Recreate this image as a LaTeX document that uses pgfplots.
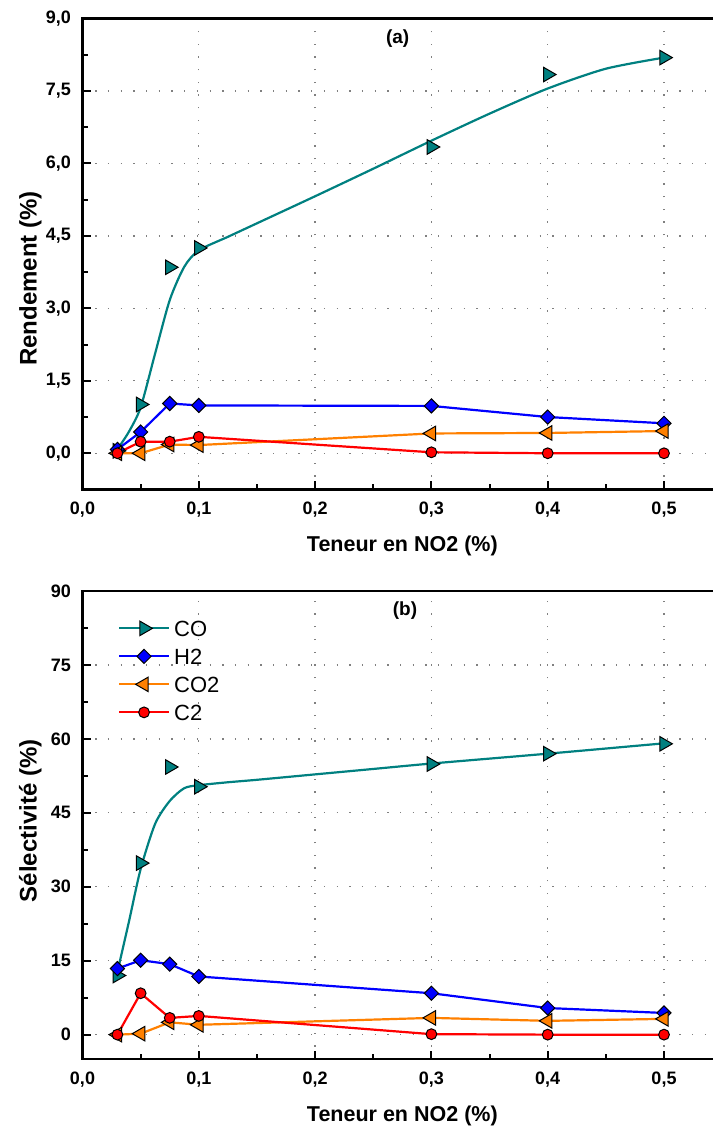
\documentclass[border=0pt]{standalone}
\usepackage{pgfplots}
\pgfplotsset{compat=1.18}
\usepackage{fontspec}
\setmainfont{Liberation Sans}
\definecolor{coteal}{RGB}{0,128,128}
\definecolor{h2blue}{RGB}{0,0,255}
\definecolor{co2orange}{RGB}{255,128,0}
\definecolor{c2red}{RGB}{255,0,0}
\newcommand\tfont{\fontsize{18}{21}\selectfont\bfseries}

\pgfplotsset{
  panel/.style={
    scale only axis, width=639.65pt,
    xmin=0, xmax=0.55,
    xtick={0,0.1,0.2,0.3,0.4,0.5},
    xticklabels={{\tfont 0,0},{\tfont 0,1},{\tfont 0,2},{\tfont 0,3},{\tfont 0,4},{\tfont 0,5}},
    minor xtick={0.05,0.15,0.25,0.35,0.45},
    tick align=inside, xtick pos=bottom, ytick pos=left,
    major tick length=8pt, minor tick length=5pt,
    tick style={black, line width=2pt},
    axis line style={line width=2.4pt},
    grid=major,
    major grid style={gray, line width=1.3pt, dash pattern=on 1.3pt off 11.4pt},
    xticklabel style={yshift=-7pt, inner sep=5.7pt},
    yticklabel style={xshift=-5.8pt, inner sep=5.7pt},
    xlabel style={at={(axis description cs:0.5,0)}, anchor=base, yshift=-62.2pt,
                  font=\fontsize{21.5}{25}\selectfont\bfseries},
    ylabel style={anchor=base, yshift=45.8pt, font=\fontsize{24}{28}\selectfont\bfseries},
    legend image code/.code={\draw[mark repeat=2,mark phase=2,#1] plot coordinates {(0pt,0pt) (25pt,0pt) (50pt,0pt)};},
  },
  coline/.style={coteal, line width=2.2pt},
  comark/.style={mark=triangle*, mark size=8.4pt, mark options={rotate=-90, fill=coteal, draw=black, line width=1pt, solid}},
  h2/.style={h2blue, line width=2.2pt, mark=square*, mark size=5pt, mark options={rotate=45, fill=h2blue, draw=black, line width=1pt, solid}},
  co2/.style={co2orange, line width=2.2pt, mark=triangle*, mark size=8.4pt, mark options={rotate=90, fill=co2orange, draw=black, line width=1pt, solid}},
  c2/.style={c2red, line width=2.2pt, mark=*, mark size=5.4pt, mark options={fill=c2red, draw=black, line width=1pt, solid}},
}

\begin{document}
\begin{tikzpicture}
\useasboundingbox (0,0) rectangle (712pt,1126pt);

% ---------------- (a) ----------------
\begin{axis}[panel,
  at={(82.5pt,636.5pt)}, anchor=south west,
  height=471pt,
  ymin=-0.75, ymax=9,
  ytick={0,1.5,3,4.5,6,7.5,9},
  yticklabels={{\tfont 0,0},{\tfont 1,5},{\tfont 3,0},{\tfont 4,5},{\tfont 6,0},{\tfont 7,5},{\tfont 9,0}},
  minor ytick={0.75,2.25,3.75,5.25,6.75,8.25},
  xlabel={Teneur en NO2 (\%)},
  ylabel={Rendement (\%)},
  ylabel style={at={(axis description cs:0,0.448)}},
]
\addplot[coline, smooth, tension=0.45, no marks, forget plot] coordinates {
 (0.03,0.08) (0.04,0.45) (0.05,0.95) (0.0625,2.07) (0.075,3.17) (0.0875,3.86) (0.1,4.2)
 (0.125,4.48) (0.15,4.76) (0.2,5.32) (0.25,5.89) (0.3,6.47) (0.35,7.03) (0.4,7.55) (0.45,7.96) (0.5,8.19)};
\addplot[only marks, comark, forget plot] coordinates {
 (0.03,0.05) (0.05,1.01) (0.075,3.85) (0.1,4.25) (0.3,6.34) (0.4,7.84) (0.5,8.19)};
\addplot[h2, forget plot] coordinates {
 (0.03,0.08) (0.05,0.44) (0.075,1.03) (0.1,0.99) (0.3,0.98) (0.4,0.75) (0.5,0.62)};
\addplot[co2, forget plot] coordinates {
 (0.03,0.0) (0.05,0.0) (0.075,0.18) (0.1,0.17) (0.3,0.41) (0.4,0.42) (0.5,0.46)};
\addplot[c2, forget plot] coordinates {
 (0.03,0.0) (0.05,0.24) (0.075,0.24) (0.1,0.34) (0.3,0.02) (0.4,0.0) (0.5,0.0)};
\node at (axis cs:0.271,8.587) {\fontsize{19}{22}\selectfont\bfseries (a)};
\end{axis}

% ---------------- (b) ----------------
\begin{axis}[panel,
  at={(82.5pt,66.7pt)}, anchor=south west,
  height=468.3pt,
  ymin=-5, ymax=90,
  ytick={0,15,30,45,60,75,90},
  yticklabels={{\tfont 0},{\tfont 15},{\tfont 30},{\tfont 45},{\tfont 60},{\tfont 75},{\tfont 90}},
  minor ytick={7.5,22.5,37.5,52.5,67.5,82.5},
  xlabel={Teneur en NO2 (\%)},
  ylabel={Sélectivité (\%)},
  ylabel style={at={(axis description cs:0,0.509)}},
  legend style={draw=none, fill=none, inner sep=0pt, at={(axis cs:0.0303,85.3)}, anchor=north west,
    font=\fontsize{22}{26}\selectfont,
    nodes={text height=16pt, text depth=0pt, inner ysep=6pt, inner xsep=4pt}},
  legend cell align=left,
]
\addlegendimage{coline, comark}
\addlegendentry{CO}
\addlegendimage{h2}
\addlegendentry{H2}
\addlegendimage{co2}
\addlegendentry{CO2}
\addlegendimage{c2}
\addlegendentry{C2}
\addplot[coline, smooth, tension=0.45, no marks, forget plot] coordinates {
 (0.03,12.7) (0.04,23) (0.05,33.6) (0.0625,42.8) (0.075,47.4) (0.0875,50.0) (0.1,50.6)
 (0.125,51.2) (0.15,51.7) (0.2,52.8) (0.25,53.9) (0.3,55.0) (0.4,57.0) (0.5,59.1)};
\addplot[only marks, comark, forget plot] coordinates {
 (0.03,12.0) (0.05,34.8) (0.075,54.3) (0.1,50.3) (0.3,54.9) (0.4,57.0) (0.5,59.0)};
\addplot[h2, forget plot] coordinates {
 (0.03,13.4) (0.05,15.1) (0.075,14.3) (0.1,11.8) (0.3,8.4) (0.4,5.4) (0.5,4.4)};
\addplot[co2, forget plot] coordinates {
 (0.03,0.0) (0.05,0.2) (0.075,2.5) (0.1,2.0) (0.3,3.4) (0.4,2.8) (0.5,3.2)};
\addplot[c2, forget plot] coordinates {
 (0.03,0.0) (0.05,8.4) (0.075,3.4) (0.1,3.8) (0.3,0.1) (0.4,0.0) (0.5,0.0)};
\node at (axis cs:0.2773,86.0) {\fontsize{19}{22}\selectfont\bfseries (b)};
\end{axis}
\end{tikzpicture}
\end{document}
